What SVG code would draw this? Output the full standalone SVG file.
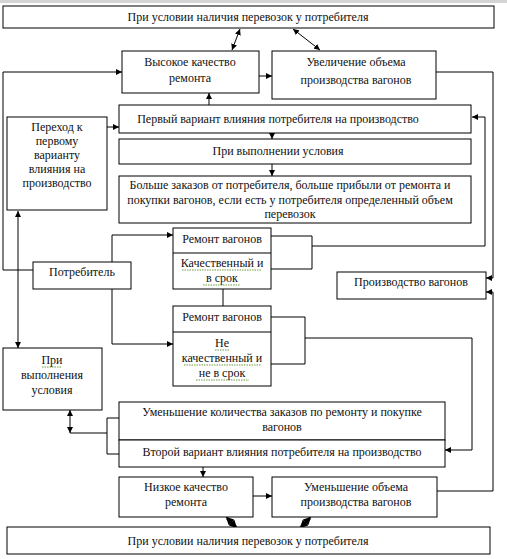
<svg xmlns="http://www.w3.org/2000/svg" width="507" height="559" viewBox="0 0 507 559">
<defs>
<style>
.b{fill:#fff;stroke:#000;stroke-width:1}
.c{fill:none;stroke:#000;stroke-width:1}
.t{font-family:"Liberation Serif","Times New Roman",serif;font-size:12px;fill:#111;text-anchor:middle}
.sp{fill:none;stroke:#6c9a3c;stroke-width:1;stroke-dasharray:1.5 1}
</style>
<marker id="a" viewBox="0 0 10 10" refX="10" refY="5" markerWidth="6" markerHeight="6" markerUnits="userSpaceOnUse" orient="auto-start-reverse">
<path d="M0,0 L10,5 L0,10 z" fill="#000"/>
</marker>
<marker id="ab" viewBox="0 0 10 10" refX="8" refY="5" markerWidth="8" markerHeight="8" markerUnits="userSpaceOnUse" orient="auto-start-reverse">
<path d="M0,0 L10,5 L0,10 z" fill="#000"/>
</marker>
</defs>
<rect x="0" y="0" width="507" height="559" fill="#fff"/>
<rect x="0" y="0" width="507" height="3" fill="#d4d4d4"/>

<g id="connectors">
<path class="c" d="M240,29 L232,50" marker-start="url(#a)" marker-end="url(#a)"/>
<path class="c" d="M293,29 L320,50" marker-start="url(#a)" marker-end="url(#a)"/>
<path class="c" d="M259,76 H272" marker-end="url(#a)"/>
<path class="c" d="M209,105 V93" marker-end="url(#a)"/>
<path class="c" d="M272,133 V139" marker-end="url(#a)"/>
<path class="c" d="M272,164 V176" marker-end="url(#a)"/>
<path class="c" d="M107,127 H119" marker-end="url(#a)"/>
<path class="c" d="M436,72 H493 V278 H486" marker-end="url(#a)"/>
<path class="c" d="M33,270 H3 V72 H122" marker-end="url(#a)"/>
<path class="c" d="M18,211 V348" marker-start="url(#a)" marker-end="url(#a)"/>
<path class="c" d="M112,262 V235 H173" marker-end="url(#a)"/>
<path class="c" d="M112,289 V344 H173" marker-end="url(#a)"/>
<path class="c" d="M271,236 H312 V269 H271"/>
<path class="c" d="M312,246 H485 V117 H472" marker-end="url(#a)"/>
<path class="c" d="M223,289 V306"/>
<path class="c" d="M271,317 H305 V364 H271"/>
<path class="c" d="M305,338 H472 V450 H445" marker-end="url(#a)"/>
<path class="c" d="M119,418 H107 V454 H119"/>
<path class="c" d="M107,433 H70"/>
<path class="c" d="M70,433 V410" marker-start="url(#a)" marker-end="url(#a)"/>
<path class="c" d="M203,467 V477" marker-end="url(#a)"/>
<path class="c" d="M253,496 H272" marker-end="url(#a)"/>
<path class="c" d="M437,491 H493 V292 H486" marker-end="url(#a)"/>
<path d="M227,518 L236,527" fill="none" stroke="#000" stroke-width="2.5" marker-start="url(#ab)" marker-end="url(#ab)"/>
<path d="M310,518 L301,527" fill="none" stroke="#000" stroke-width="2.5" marker-start="url(#ab)" marker-end="url(#ab)"/>
</g>

<g id="top-condition">
<rect class="b" x="3" y="6" width="491" height="22"/>
<text class="t" x="248" y="21">При условии наличия  перевозок у потребителя</text>
</g>
<g id="high-quality">
<rect class="b" x="122" y="51" width="137" height="42"/>
<text class="t" x="190" y="66">Высокое качество</text>
<text class="t" x="190" y="82">ремонта</text>
</g>
<g id="increase-production">
<rect class="b" x="272" y="51" width="164" height="48"/>
<text class="t" x="356" y="66">Увеличение объема</text>
<text class="t" x="356" y="84">производства вагонов</text>
</g>
<g id="first-variant">
<rect class="b" x="119" y="105" width="352" height="28"/>
<text class="t" x="278" y="123">Первый вариант влияния потребителя на производство</text>
</g>
<g id="condition-1">
<rect class="b" x="119" y="139" width="352" height="25"/>
<text class="t" x="278" y="155">При выполнении условия</text>
</g>
<g id="more-orders">
<rect class="b" x="119" y="176" width="352" height="47"/>
<text class="t" x="290" y="189">Больше заказов от потребителя, больше прибыли от ремонта и</text>
<text class="t" x="290" y="204">покупки вагонов, если есть у потребителя определенный объем</text>
<text class="t" x="290" y="218">перевозок</text>
</g>
<g id="transition">
<rect class="b" x="7" y="117" width="100" height="93"/>
<text class="t" x="57" y="131">Переход к</text>
<text class="t" x="57" y="145">первому</text>
<text class="t" x="57" y="159">варианту</text>
<text class="t" x="57" y="173">влияния на</text>
<text class="t" x="57" y="187">производство</text>
</g>
<g id="consumer">
<rect class="b" x="33" y="262" width="98" height="27"/>
<text class="t" x="82" y="276">Потребитель</text>
</g>
<g id="repair-good">
<rect class="b" x="173" y="228" width="98" height="61"/>
<line class="c" x1="173" y1="253" x2="271" y2="253"/>
<text class="t" x="222" y="243">Ремонт вагонов</text>
<text class="t" x="222" y="267">Качественный  и</text>
<text class="t" x="222" y="282">в срок</text>
<path class="sp" d="M182,270 H262 M203,285 H240"/>
</g>
<g id="repair-bad">
<rect class="b" x="173" y="306" width="98" height="80"/>
<line class="c" x1="173" y1="332" x2="271" y2="332"/>
<text class="t" x="222" y="321">Ремонт вагонов</text>
<text class="t" x="222" y="347">Не</text>
<text class="t" x="222" y="362">качественный  и</text>
<text class="t" x="222" y="377">не в срок</text>
<path class="sp" d="M215,350 H230 M184,365 H261 M196,380 H249"/>
</g>
<g id="wagon-production">
<rect class="b" x="337" y="272" width="149" height="27"/>
<text class="t" x="411" y="286">Производство вагонов</text>
</g>
<g id="condition-2">
<rect class="b" x="3" y="348" width="99" height="62"/>
<text class="t" x="52" y="364">При</text>
<text class="t" x="52" y="379">выполнения</text>
<text class="t" x="52" y="394">условия</text>
<path class="sp" d="M42,367 H62"/>
</g>
<g id="fewer-orders">
<rect class="b" x="119" y="402" width="326" height="38"/>
<text class="t" x="282" y="416">Уменьшение количества заказов по ремонту и покупке</text>
<text class="t" x="282" y="431">вагонов</text>
</g>
<g id="second-variant">
<rect class="b" x="119" y="440" width="326" height="27"/>
<text class="t" x="282" y="456">Второй вариант влияния потребителя на производство</text>
</g>
<g id="low-quality">
<rect class="b" x="119" y="477" width="134" height="40"/>
<text class="t" x="186" y="491">Низкое качество</text>
<text class="t" x="186" y="506">ремонта</text>
</g>
<g id="decrease-production">
<rect class="b" x="272" y="477" width="165" height="40"/>
<text class="t" x="356" y="491">Уменьшение объема</text>
<text class="t" x="356" y="506">производства вагонов</text>
</g>
<g id="bottom-condition">
<rect class="b" x="7" y="527" width="483" height="27"/>
<text class="t" x="248" y="545">При условии наличия  перевозок у потребителя</text>
</g>
</svg>
